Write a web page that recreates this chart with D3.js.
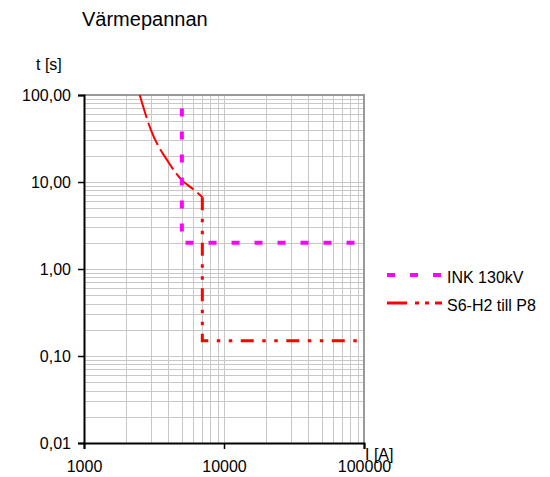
<!DOCTYPE html>
<html>
<head>
<meta charset="utf-8">
<script src="https://cdn.jsdelivr.net/npm/d3@7"></script>
<style>
  body { margin: 0; background: #fff; }
  svg text { font-family: "Liberation Sans", Arial, sans-serif; fill: #000; }
</style>
</head>
<body>
<script>
// chart data
var xTicks = [1000, 10000, 100000];
var yTicks = [0.01, 0.1, 1, 10, 100];

// INK 130kV
var inkI = [5000, 5000, 100000];
var inkT = [70, 2, 2];

// S6-H2 till P8 (inverse-time curve, then definite time step)
var s6CurveI = [2500, 3000, 4000, 5000, 6000, 7000];
var s6CurveT = [100, 40, 17, 10.5, 8.3, 6.7];
var s6StepI = [7000, 7000, 100000];
var s6StepT = [6.7, 0.15, 0.15];

var seriesNames = ["INK 130kV", "S6-H2 till P8"];

//chart frame
var width = 550,
    height = 477,
    margin = {left: 84, right: 186, top: 95, bottom: 34};

var svg = d3.select("body")
    .append("svg")
    .attr("width", width)
    .attr("height", height);

var x = d3.scaleLog()
    .domain([1000, 100000])
    .range([margin.left, width - margin.right]);

var y = d3.scaleLog()
    .domain([0.01, 100])
    .range([height - margin.bottom, margin.top]);

//minor grid values 1..9 per decade
function logGrid(lo, hi){
    var vals = [];
    for (var e = Math.log10(lo); e < Math.log10(hi); e++){
        for (var m = 1; m < 10; m++){
            vals.push(m * Math.pow(10, e));
        }
    }
    vals.push(hi);
    return vals;
}

var grid = svg.append("g").attr("class", "grid");

grid.selectAll(".vgrid")
    .data(logGrid(1000, 100000))
    .enter()
    .append("line")
    .attr("x1", function(d){ return Math.round(x(d)) + 0.5; })
    .attr("x2", function(d){ return Math.round(x(d)) + 0.5; })
    .attr("y1", y(100))
    .attr("y2", y(0.01))
    .attr("stroke", "#c8c8c8")
    .attr("stroke-width", 1);

grid.selectAll(".hgrid")
    .data(logGrid(0.01, 100))
    .enter()
    .append("line")
    .attr("x1", x(1000))
    .attr("x2", x(100000))
    .attr("y1", function(d){ return Math.round(y(d)) + 0.5; })
    .attr("y2", function(d){ return Math.round(y(d)) + 0.5; })
    .attr("stroke", "#c8c8c8")
    .attr("stroke-width", 1);

//top and right frame
svg.append("path")
    .attr("d", "M" + x(1000) + "," + y(100) + "H" + x(100000) + "V" + y(0.01))
    .attr("fill", "none")
    .attr("stroke", "#999")
    .attr("stroke-width", 2);

//axes
var yAxis = d3.axisLeft(y)
    .tickValues(yTicks)
    .tickFormat(function(d){ return d3.format(".2f")(d).replace(".", ","); })
    .tickSize(6)
    .tickPadding(7);

var xAxis = d3.axisBottom(x)
    .tickValues(xTicks)
    .tickFormat(d3.format("d"))
    .tickSize(6)
    .tickPadding(12);

var gy = svg.append("g")
    .attr("transform", "translate(" + x(1000) + ",0)")
    .call(yAxis);

var gx = svg.append("g")
    .attr("transform", "translate(0," + y(0.01) + ")")
    .call(xAxis);

[gx, gy].forEach(function(g){
    g.select(".domain").attr("stroke", "#000").attr("stroke-width", 2);
    g.selectAll(".tick line").attr("stroke", "#000").attr("stroke-width", 1.5);
    g.selectAll(".tick text")
        .attr("font-size", 16)
        .attr("font-family", "Liberation Sans, Arial, sans-serif")
        .attr("fill", "#000");
});

//series lines
var line = d3.line()
    .x(function(d){ return x(d[0]); })
    .y(function(d){ return y(d[1]); });

var smoothLine = d3.line()
    .curve(d3.curveMonotoneX)
    .x(function(d){ return x(d[0]); })
    .y(function(d){ return y(d[1]); });

var inkData = d3.zip(inkI, inkT);
var s6CurveData = d3.zip(s6CurveI, s6CurveT);
var s6StepData = d3.zip(s6StepI, s6StepT);

var redDash = "13,8.5,3.5,8.5,3.5,8.5";

svg.append("path")
    .datum(s6CurveData)
    .attr("d", smoothLine)
    .attr("fill", "none")
    .attr("stroke", "#ff0000")
    .attr("stroke-width", 2)
    .attr("stroke-dasharray", "24,5");

svg.append("path")
    .datum(s6StepData)
    .attr("d", line)
    .attr("fill", "none")
    .attr("stroke", "#ff0000")
    .attr("stroke-width", 3)
    .attr("stroke-dasharray", redDash);

svg.append("path")
    .datum(inkData)
    .attr("d", line)
    .attr("fill", "none")
    .attr("stroke", "#ff00ff")
    .attr("stroke-width", 4)
    .attr("stroke-dasharray", "8,15");

//legend
var legend = svg.append("g").attr("class", "legend");
var legendStyles = [
    {color: "#ff00ff", width: 4, dash: "8,15"},
    {color: "#ff0000", width: 3, dash: "20,8,4,6,4,6"}
];

seriesNames.forEach(function(name, i){
    var ly = 275 + i * 28;
    legend.append("line")
        .attr("x1", 387)
        .attr("x2", 442)
        .attr("y1", ly)
        .attr("y2", ly)
        .attr("stroke", legendStyles[i].color)
        .attr("stroke-width", legendStyles[i].width)
        .attr("stroke-dasharray", legendStyles[i].dash);
    legend.append("text")
        .attr("x", 447)
        .attr("y", ly + 8)
        .attr("font-size", 16)
        .text(name);
});

//titles
svg.append("text")
    .attr("x", 82)
    .attr("y", 26)
    .attr("font-size", 20)
    .text("Värmepannan");

svg.append("text")
    .attr("x", 36)
    .attr("y", 70)
    .attr("font-size", 16)
    .text("t [s]");

svg.append("text")
    .attr("x", 365)
    .attr("y", 460)
    .attr("font-size", 16)
    .text("I [A]");
</script>
</body>
</html>
